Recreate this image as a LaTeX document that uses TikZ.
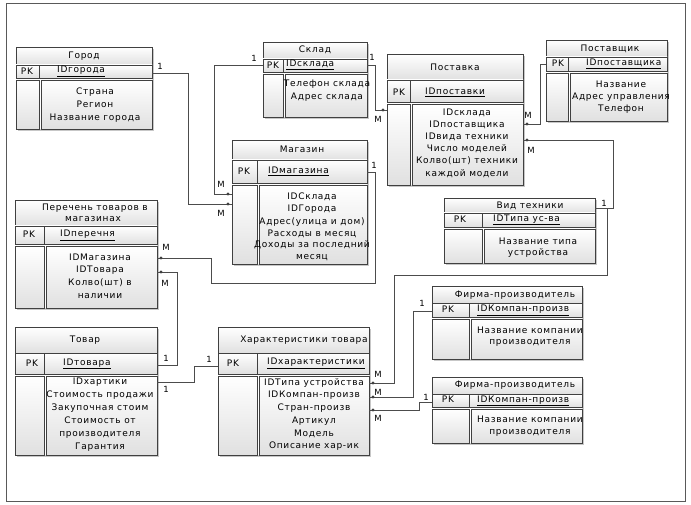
\documentclass[tikz,border=0pt]{standalone}
\usepackage{fontspec}
\setmainfont{DejaVu Sans}[LetterSpace=8]
\usetikzlibrary{decorations.markings}

\tikzset{
 cell/.style={draw=black!75, line width=0.7pt, top color=white, bottom color=black!12},
 tblshadow/.style={fill=black!22},
 frame/.style={draw=black!65, line width=0.8pt},
 txt/.style={font=\fontsize{9}{10}\selectfont, inner sep=0pt, text height=6.5pt, text depth=2pt},
 card/.style={font=\fontsize{8.5}{9}\selectfont, inner sep=0pt},
 conn/.style={draw=black!70, line width=0.8pt},
 tomany/.style={postaction={decorate}, decoration={markings, mark=at position -4pt with {\fill[black!75] circle (1.6pt);}}},
}

% таблица: имя, лево, разделитель, право, верх, низ заголовка, низ PK, низ
\newcommand{\ertable}[8]{%
 \fill[tblshadow] (#2+2,#5+2) rectangle (#4+2,#8+2);
 \fill[white] (#2,#5) rectangle (#4,#8);
 \draw[cell] (#2,#5) rectangle (#4,#6);
 \draw[cell] (#2,#6) rectangle (#3,#7);
 \draw[cell] (#3,#6) rectangle (#4,#7);
 \draw[cell] (#2,#7+2) rectangle (#3,#8);
 \draw[cell] (#3+2,#7+2) rectangle (#4,#8);
 \coordinate (#1-w) at (#2,#6);
 \coordinate (#1-e) at (#4,#6);
}

\begin{document}
\begin{tikzpicture}[x=1pt,y=-1pt]
 \useasboundingbox (0,0) rectangle (691,505); %размер
 \draw[frame] (6,3) rectangle (685,501); %рамка

 % Город
 \ertable{gorod}{16}{39}{152}{47}{65}{78}{129}
 \node[txt] (gorod-t) at (84,56) {Город};
 \node[txt] (gorod-pk) at (27,72) {PK};
 \node[txt,anchor=west] (gorod-k) at (57,70.5) {\underline{IDгорода}};
 \node[txt] (gorod-a1) at (95,92) {Страна};
 \node[txt] (gorod-a2) at (95,105) {Регион};
 \node[txt] (gorod-a3) at (95,118) {Название города};

 % Склад
 \ertable{sklad}{263}{283}{367}{42}{59}{72}{117}
 \node[txt] (sklad-t) at (315,50) {Склад};
 \node[txt] (sklad-pk) at (273,66) {PK};
 \node[txt,anchor=west] (sklad-k) at (286,64.5) {\underline{IDсклада}};
 \node[txt] (sklad-a1) at (327,84) {Телефон склада};
 \node[txt] (sklad-a2) at (327,97) {Адрес склада};

 % Поставка
 \ertable{post}{387}{410}{523}{54}{80}{102}{185}
 \node[txt] (post-t) at (455,68) {Поставка};
 \node[txt] (post-pk) at (399,93) {PK};
 \node[txt,anchor=west] (post-k) at (425,92) {\underline{IDпоставки}};
 \node[txt] (post-a1) at (467,113) {IDсклада};
 \node[txt] (post-a2) at (467,125) {IDпоставщика};
 \node[txt] (post-a3) at (467,137) {IDвида техники};
 \node[txt] (post-a4) at (467,149) {Число моделей};
 \node[txt] (post-a5) at (467,161) {Колво(шт) техники};
 \node[txt] (post-a6) at (467,174) {каждой модели};

 % Поставщик
 \ertable{postav}{546}{568}{667}{40}{57}{71}{121}
 \node[txt] (postav-t) at (610,49) {Поставщик};
 \node[txt] (postav-pk) at (558,64) {PK};
 \node[txt,anchor=west] (postav-k) at (586,63.5) {\underline{IDпоставщика}};
 \node[txt] (postav-a1) at (621,85) {Название};
 \node[txt] (postav-a2) at (621,97) {Адрес управления};
 \node[txt] (postav-a3) at (621,109) {Телефон};

 % Магазин
 \ertable{mag}{232}{257}{367}{140}{160}{183}{264}
 \node[txt] (mag-t) at (302,150) {Магазин};
 \node[txt] (mag-pk) at (244,172) {PK};
 \node[txt,anchor=west] (mag-k) at (268,171) {\underline{IDмагазина}};
 \node[txt] (mag-a1) at (312,197) {IDСклада};
 \node[txt] (mag-a2) at (312,209) {IDГорода};
 \node[txt] (mag-a3) at (312,222) {Адрес(улица и дом)};
 \node[txt] (mag-a4) at (312,234) {Расходы в месяц};
 \node[txt] (mag-a5) at (312,245) {Доходы за последний};
 \node[txt] (mag-a6) at (312,257) {месяц};

 % Перечень товаров в магазинах
 \ertable{per}{15}{44}{157}{200}{226}{244}{308}
 \node[txt] (per-t1) at (95,208) {Перечень товаров в};
 \node[txt] (per-t2) at (93,219) {магазинах};
 \node[txt] (per-pk) at (29,235) {PK};
 \node[txt,anchor=west] (per-k) at (60,234.5) {\underline{IDперечня}};
 \node[txt] (per-a1) at (100,258) {IDМагазина};
 \node[txt] (per-a2) at (100,270) {IDТовара};
 \node[txt] (per-a3) at (100,283) {Колво(шт) в};
 \node[txt] (per-a4) at (100,296) {наличии};

 % Вид техники
 \ertable{vid}{444}{482}{595}{198}{213}{227}{263}
 \node[txt] (vid-t) at (530,206) {Вид техники};
 \node[txt] (vid-pk) at (460,220) {PK};
 \node[txt,anchor=west] (vid-k) at (493,219) {\underline{IDТипа ус-ва}};
 \node[txt] (vid-a1) at (538,242) {Название типа};
 \node[txt] (vid-a2) at (538,253) {устройства};

 % Товар
 \ertable{tov}{15}{44}{157}{327}{353}{374}{455}
 \node[txt] (tov-t) at (85,340) {Товар};
 \node[txt] (tov-pk) at (32,364) {PK};
 \node[txt,anchor=west] (tov-k) at (63,363) {\underline{IDтовара}};
 \node[txt] (tov-a1) at (100,382) {IDхартики};
 \node[txt] (tov-a2) at (100,395) {Стоимость продажи};
 \node[txt] (tov-a3) at (100,408) {Закупочная стоим};
 \node[txt] (tov-a4) at (100,421) {Стоимость от};
 \node[txt] (tov-a5) at (100,434) {производителя};
 \node[txt] (tov-a6) at (100,447) {Гарантия};

 % Характеристики товара
 \ertable{har}{218}{257}{369}{327}{353}{374}{455}
 \node[txt] (har-t) at (304,340) {Характеристики товара};
 \node[txt] (har-pk) at (233,364) {PK};
 \node[txt,anchor=west] (har-k) at (267,362.5) {\underline{IDхарактеристики}};
 \node[txt] (har-a1) at (314,383) {IDТипа устройства};
 \node[txt] (har-a2) at (314,395) {IDКомпан-произв};
 \node[txt] (har-a3) at (314,408) {Стран-произв};
 \node[txt] (har-a4) at (314,421) {Артикул};
 \node[txt] (har-a5) at (314,434) {Модель};
 \node[txt] (har-a6) at (314,446) {Описание хар-ик};

 % Фирма-производитель (1)
 \ertable{firma1}{432}{469}{582}{286}{303}{317}{359}
 \node[txt] (firma1-t) at (515,295) {Фирма-производитель};
 \node[txt] (firma1-pk) at (448,310) {PK};
 \node[txt,anchor=west] (firma1-k) at (477,309.5) {\underline{IDКомпан-произв}};
 \node[txt] (firma1-a1) at (530,331) {Название компании};
 \node[txt] (firma1-a2) at (530,342) {производителя};

 % Фирма-производитель (2)
 \ertable{firma2}{432}{469}{582}{377}{394}{407}{443}
 \node[txt] (firma2-t) at (515,385) {Фирма-производитель};
 \node[txt] (firma2-pk) at (448,400.5) {PK};
 \node[txt,anchor=west] (firma2-k) at (477,400) {\underline{IDКомпан-произв}};
 \node[txt] (firma2-a1) at (530,420) {Название компании};
 \node[txt] (firma2-a2) at (530,432) {производителя};

 % изломы связей
 \coordinate (j-gm) at (188,204);
 \coordinate (j-sm) at (214,194);
 \coordinate (j-sp) at (375,110);
 \coordinate (j-pp) at (540,124);
 \coordinate (j-vp) at (613,140);
 \coordinate (j-vh1) at (607,275);
 \coordinate (j-vh2) at (394,383);
 \coordinate (j-f1) at (413,397);
 \coordinate (j-f2) at (419,410);
 \coordinate (j-mp1) at (375,283);
 \coordinate (j-mp2) at (211,258);
 \coordinate (j-tp) at (177,272);
 \coordinate (j-th) at (194,366);
 \coordinate (j-vid) at (595,208);

 % связи
 \draw[conn,tomany] (gorod-e |- 0,73) -| (j-gm) -- (mag-w |- j-gm);
 \draw[conn,tomany] (sklad-w |- 0,65) -| (j-sm) -- (mag-w |- j-sm);
 \draw[conn,tomany] (sklad-e |- 0,65) -| (j-sp) -- (post-w |- j-sp);
 \draw[conn,tomany] (postav-w |- 0,64) -| (j-pp) -- (post-e |- j-pp);
 \draw[conn,tomany] (j-vid) -| (j-vp) -- (post-e |- j-vp);
 \draw[conn,tomany] (j-vid) -| (j-vh1) -| (j-vh2) -- (har-e |- j-vh2);
 \draw[conn,tomany] (firma1-w |- 0,311) -| (j-f1) -- (har-e |- j-f1);
 \draw[conn,tomany] (firma2-w |- 0,402) -| (j-f2) -- (har-e |- j-f2);
 \draw[conn,tomany] (mag-e |- 0,172) -| (j-mp1) -| (j-mp2) -- (per-e |- j-mp2);
 \draw[conn,tomany] (tov-e |- 0,365) -| (j-tp) -- (per-e |- j-tp);
 \draw[conn] (tov-e |- tov-a1) -| (j-th) -- (har-w |- j-th);

 % кратности
 \node[card] (l-gorod) at (160,66) {1};
 \node[card] (l-sklad1) at (254,58) {1};
 \node[card] (l-mag1) at (221,184) {M};
 \node[card] (l-mag2) at (221,213) {M};
 \node[card] (l-sklad2) at (372,57) {1};
 \node[card] (l-post1) at (378,119) {M};
 \node[card] (l-post2) at (528,115) {M};
 \node[card] (l-vid) at (604,203) {1};
 \node[card] (l-post3) at (531,150) {M};
 \node[card] (l-har1) at (378,374) {M};
 \node[card] (l-firma1) at (422,303) {1};
 \node[card] (l-har2) at (378,392) {M};
 \node[card] (l-firma2) at (426,397) {1};
 \node[card] (l-har3) at (378,418) {M};
 \node[card] (l-mag3) at (374,165) {1};
 \node[card] (l-per1) at (166,247) {M};
 \node[card] (l-tov1) at (166,358) {1};
 \node[card] (l-per2) at (165,283) {M};
 \node[card] (l-tov2) at (166,389) {1};
 \node[card] (l-har4) at (209,359) {1};
\end{tikzpicture}
\end{document}
